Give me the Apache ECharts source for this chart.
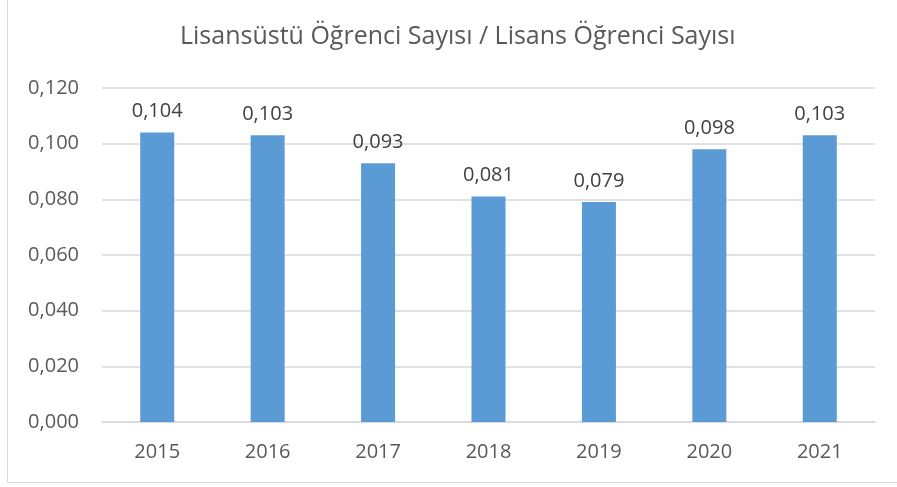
<!DOCTYPE html>
<html>
<head>
<meta charset="utf-8">
<script src="https://cdn.jsdelivr.net/npm/echarts@6/dist/echarts.min.js"></script>
<style>
  html, body { margin: 0; padding: 0; background: #fff; }
  #main { width: 897px; height: 487px; }
</style>
</head>
<body>
<div id="main"></div>
<script>
const years = ['2015', '2016', '2017', '2018', '2019', '2020', '2021'];
const ratios = [0.104, 0.103, 0.093, 0.081, 0.079, 0.098, 0.103];
const chartTitle = 'Lisansüstü Öğrenci Sayısı / Lisans Öğrenci Sayısı';

const fmt = v => Number(v).toFixed(3).replace('.', ',');
const font = '"Open Sans", "Noto Sans", sans-serif';

const chart = echarts.init(document.getElementById('main'));
chart.setOption({
  animation: false,
  textStyle: { fontFamily: font },
  title: {
    text: chartTitle,
    left: 175,
    top: 19,
    textStyle: { fontFamily: font, fontSize: 25, fontWeight: 'normal', color: '#595959' }
  },
  grid: { left: 102, right: 22, top: 88, bottom: 65, containLabel: false },
  // border around the chart area
  graphic: [{
    type: 'rect',
    shape: { x: 7.5, y: -5, width: 900, height: 487.5 },
    style: { fill: 'none', stroke: '#d9d9d9', lineWidth: 1 },
    silent: true
  }],
  xAxis: {
    type: 'category',
    data: years,
    axisTick: { show: false },
    axisLine: { lineStyle: { color: '#d9d9d9', width: 1.5 } },
    axisLabel: { color: '#595959', fontSize: 20, margin: 20, fontFamily: font }
  },
  yAxis: {
    type: 'value',
    min: 0,
    max: 0.12,
    interval: 0.02,
    axisLine: { show: false },
    axisTick: { show: false },
    splitLine: { lineStyle: { color: '#d9d9d9', width: 1.5 } },
    axisLabel: {
      color: '#595959', fontSize: 20, margin: 23, fontFamily: font,
      formatter: v => fmt(v)
    }
  },
  series: [{
    type: 'bar',
    data: ratios,
    barWidth: 34,
    itemStyle: { color: '#5b9bd5' },
    label: {
      show: true,
      position: 'top',
      distance: 11,
      color: '#404040',
      fontSize: 20,
      fontFamily: font,
      formatter: p => fmt(p.value)
    }
  }]
});
</script>
</body>
</html>
